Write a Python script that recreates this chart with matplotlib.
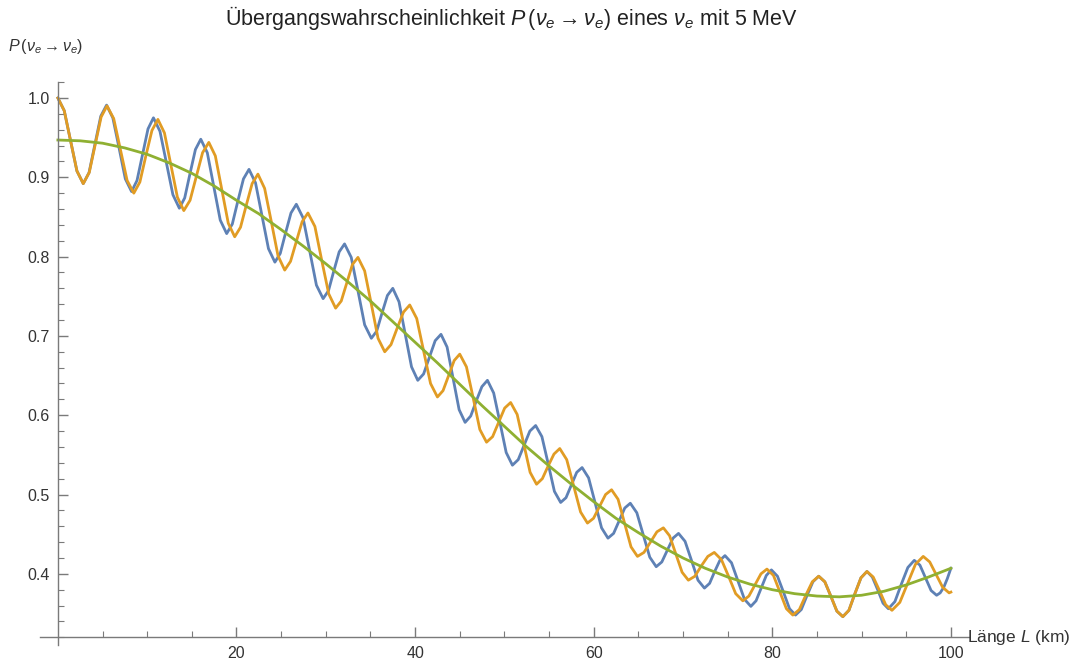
import numpy as np
import matplotlib
matplotlib.use("Agg")
import matplotlib.pyplot as plt
from matplotlib.ticker import MultipleLocator, FixedLocator

plt.rcParams['font.family'] = ['Liberation Sans', 'DejaVu Sans']
plt.rcParams['mathtext.fontset'] = 'custom'
plt.rcParams['mathtext.rm'] = 'Liberation Sans'
plt.rcParams['mathtext.it'] = 'Liberation Sans:italic'

blau_L = [0, 0.71, 1.42, 2.13, 2.84, 3.49, 4.15, 4.80, 5.45, 6.15, 6.85, 7.55, 8.25,
          8.86, 9.48, 10.09, 10.7, 11.43, 12.15, 12.88, 13.6, 14.2, 14.8, 15.4, 16.0,
          16.73, 17.45, 18.18, 18.9, 19.53, 20.15, 20.78, 21.4, 22.13, 22.85, 23.58, 24.3,
          24.9, 25.5, 26.1, 26.7, 27.45, 28.2, 28.95, 29.7, 30.3, 30.9, 31.5, 32.1,
          32.85, 33.6, 34.35, 35.1, 35.7, 36.3, 36.9, 37.5, 38.2, 38.9, 39.6, 40.3,
          40.95, 41.6, 42.25, 42.9, 43.58, 44.25, 44.93, 45.6, 46.23, 46.85, 47.48, 48.1,
          48.8, 49.5, 50.2, 50.9, 51.55, 52.2, 52.85, 53.5, 54.2, 54.9, 55.6, 56.3,
          56.9, 57.5, 58.1, 58.7, 59.43, 60.15, 60.88, 61.6, 62.23, 62.85, 63.48, 64.1,
          64.83, 65.55, 66.28, 67.0, 67.63, 68.25, 68.88, 69.5, 70.23, 70.95, 71.68, 72.4,
          72.98, 73.55, 74.13, 74.7, 75.43, 76.15, 76.88, 77.6, 78.18, 78.75, 79.33, 79.9,
          80.58, 81.25, 81.93, 82.6, 83.25, 83.9, 84.55, 85.2, 85.88, 86.55, 87.23, 87.9,
          88.58, 89.25, 89.93, 90.6, 91.2, 91.8, 92.4, 93.0, 93.73, 94.45, 95.18, 95.9,
          96.53, 97.15, 97.78, 98.4, 98.8, 99.2, 99.6, 100]
blau_P = [1.000, 0.984, 0.946, 0.908, 0.892, 0.906, 0.942, 0.977, 0.991, 0.975, 0.937, 0.898, 0.882,
          0.896, 0.929, 0.961, 0.975, 0.958, 0.918, 0.878, 0.861, 0.874, 0.905, 0.935, 0.948,
          0.931, 0.889, 0.846, 0.829, 0.841, 0.870, 0.898, 0.910, 0.893, 0.852, 0.810, 0.793,
          0.804, 0.830, 0.855, 0.866, 0.849, 0.807, 0.764, 0.747, 0.757, 0.782, 0.806, 0.816,
          0.799, 0.757, 0.714, 0.697, 0.706, 0.729, 0.751, 0.760, 0.743, 0.702, 0.661, 0.644,
          0.652, 0.673, 0.694, 0.702, 0.686, 0.647, 0.607, 0.591, 0.599, 0.618, 0.636, 0.644,
          0.628, 0.591, 0.553, 0.537, 0.544, 0.562, 0.580, 0.587, 0.573, 0.539, 0.504, 0.490,
          0.496, 0.512, 0.528, 0.534, 0.521, 0.490, 0.458, 0.445, 0.451, 0.467, 0.483, 0.489,
          0.477, 0.449, 0.421, 0.409, 0.415, 0.430, 0.445, 0.451, 0.441, 0.417, 0.392, 0.382,
          0.388, 0.403, 0.417, 0.423, 0.414, 0.391, 0.368, 0.359, 0.366, 0.382, 0.398, 0.405,
          0.397, 0.377, 0.356, 0.348, 0.355, 0.373, 0.390, 0.397, 0.390, 0.372, 0.353, 0.346,
          0.354, 0.375, 0.395, 0.403, 0.396, 0.380, 0.363, 0.356, 0.365, 0.387, 0.408, 0.417,
          0.411, 0.395, 0.379, 0.373, 0.376, 0.383, 0.394, 0.407]

# orange
orange_L = [0, 0.71, 1.42, 2.13, 2.84, 3.51, 4.17, 4.84, 5.5, 6.25, 7.0, 7.75, 8.5,
            9.18, 9.85, 10.53, 11.2, 11.93, 12.65, 13.38, 14.1, 14.8, 15.5, 16.2, 16.9,
            17.63, 18.35, 19.08, 19.8, 20.45, 21.1, 21.75, 22.4, 23.15, 23.9, 24.65, 25.4,
            26.05, 26.7, 27.35, 28.0, 28.78, 29.55, 30.33, 31.1, 31.73, 32.35, 32.98, 33.6,
            34.35, 35.1, 35.85, 36.6, 37.3, 38.0, 38.7, 39.4, 40.18, 40.95, 41.73, 42.5,
            43.13, 43.75, 44.38, 45.0, 45.75, 46.5, 47.25, 48.0, 48.68, 49.35, 50.03, 50.7,
            51.43, 52.15, 52.88, 53.6, 54.25, 54.9, 55.55, 56.2, 56.98, 57.75, 58.53, 59.3,
            59.98, 60.65, 61.33, 62.0, 62.73, 63.45, 64.18, 64.9, 65.63, 66.35, 67.08, 67.8,
            68.5, 69.2, 69.9, 70.6, 71.33, 72.05, 72.78, 73.5, 74.3, 75.1, 75.9, 76.7,
            77.38, 78.05, 78.73, 79.4, 80.13, 80.85, 81.58, 82.3, 83.03, 83.75, 84.48, 85.2,
            85.88, 86.55, 87.23, 87.9, 88.58, 89.25, 89.93, 90.6, 91.3, 92.0, 92.7, 93.4,
            94.28, 95.15, 96.03, 96.9, 97.63, 98.35, 99.08, 99.8, 100]
orange_P = [1.000, 0.984, 0.946, 0.908, 0.892, 0.906, 0.941, 0.976, 0.990, 0.974, 0.935, 0.896, 0.880,
            0.894, 0.927, 0.959, 0.973, 0.956, 0.916, 0.875, 0.858, 0.871, 0.901, 0.931, 0.944,
            0.927, 0.885, 0.842, 0.825, 0.837, 0.865, 0.892, 0.904, 0.886, 0.844, 0.801, 0.783,
            0.794, 0.819, 0.844, 0.855, 0.838, 0.795, 0.753, 0.735, 0.744, 0.767, 0.790, 0.799,
            0.782, 0.740, 0.697, 0.680, 0.689, 0.710, 0.730, 0.739, 0.722, 0.681, 0.640, 0.623,
            0.631, 0.650, 0.669, 0.677, 0.661, 0.622, 0.582, 0.566, 0.573, 0.591, 0.609, 0.616,
            0.601, 0.565, 0.528, 0.513, 0.520, 0.536, 0.551, 0.558, 0.544, 0.511, 0.478, 0.464,
            0.470, 0.485, 0.500, 0.506, 0.494, 0.464, 0.434, 0.422, 0.427, 0.440, 0.453, 0.458,
            0.448, 0.425, 0.402, 0.392, 0.397, 0.410, 0.422, 0.427, 0.418, 0.397, 0.375, 0.366,
            0.372, 0.386, 0.400, 0.406, 0.398, 0.377, 0.356, 0.348, 0.355, 0.373, 0.390, 0.397,
            0.390, 0.372, 0.353, 0.346, 0.354, 0.375, 0.395, 0.403, 0.396, 0.379, 0.361, 0.354,
            0.364, 0.388, 0.412, 0.422, 0.415, 0.399, 0.383, 0.376, 0.377]

# gruen (gemittelt)
gruen_L = [0, 2.5, 5, 7.5, 10, 12.5, 15, 17.5, 20, 22.5, 25, 27.5, 30, 32.5, 35, 37.5,
           40, 42.5, 45, 47.5, 50, 52.5, 55, 57.5, 60, 62.5, 65, 67.5, 70, 72.5, 75, 77.5,
           80, 82.5, 85, 87.5, 90, 92.5, 95, 97.5, 100]
gruen_P = [0.947, 0.946, 0.943, 0.937, 0.929, 0.918, 0.905, 0.889, 0.871, 0.854, 0.834,
           0.813, 0.791, 0.768, 0.744, 0.718, 0.692, 0.666, 0.639, 0.612, 0.586, 0.560,
           0.536, 0.513, 0.491, 0.470, 0.452, 0.435, 0.420, 0.407, 0.396, 0.387, 0.380,
           0.375, 0.372, 0.371, 0.373, 0.378, 0.386, 0.396, 0.407]

fig = plt.figure(figsize=(10.88, 6.66), dpi=100)
ax = fig.add_axes([0.0368, 0.0312, 0.8536, 0.8455])

ax.plot(blau_L, blau_P, color='#5E81B5', lw=2.0, solid_joinstyle='round')
ax.plot(orange_L, orange_P, color='#E19C24', lw=2.0, solid_joinstyle='round')
ax.plot(gruen_L, gruen_P, color='#8FB032', lw=2.0)

ax.set_xlim(-2, 102)
ax.set_ylim(0.31, 1.02)

for s in ['top', 'right']:
    ax.spines[s].set_visible(False)
ax.spines['left'].set_position(('data', 0))
ax.spines['bottom'].set_position(('data', 0.32))
for s in ['left', 'bottom']:
    ax.spines[s].set_color('#7a7a7a')
    ax.spines[s].set_linewidth(1.0)

ax.xaxis.set_major_locator(FixedLocator([20, 40, 60, 80, 100]))
ax.xaxis.set_minor_locator(FixedLocator([5, 10, 15, 25, 30, 35, 45, 50, 55, 65, 70, 75, 85, 90, 95]))
ax.yaxis.set_major_locator(FixedLocator([0.4, 0.5, 0.6, 0.7, 0.8, 0.9, 1.0]))
ax.yaxis.set_minor_locator(MultipleLocator(0.02))
ax.set_yticklabels(['0.4', '0.5', '0.6', '0.7', '0.8', '0.9', '1.0'])
ax.tick_params(which='major', direction='in', length=7, width=1.0, color='#7a7a7a',
               labelsize=11.5, labelcolor='#333333', pad=6)
ax.tick_params(which='minor', direction='in', length=4, width=0.8, color='#7a7a7a')

ax.text(101.8, 0.32, 'Länge $L$ (km)', fontsize=12.5, color='#333333', va='center', ha='left')
fig.text(0.007, 0.93, r'$P\,(\nu_e \rightarrow \nu_e)$', fontsize=11.5, color='#333333',
         ha='left', va='center')
fig.text(0.47, 0.973, r'Übergangswahrscheinlichkeit $P\,(\nu_e \rightarrow \nu_e)$ eines $\nu_e$ mit 5 MeV',
         fontsize=15.5, color='#222222', ha='center', va='center')

fig.savefig('out.png', dpi=100)
